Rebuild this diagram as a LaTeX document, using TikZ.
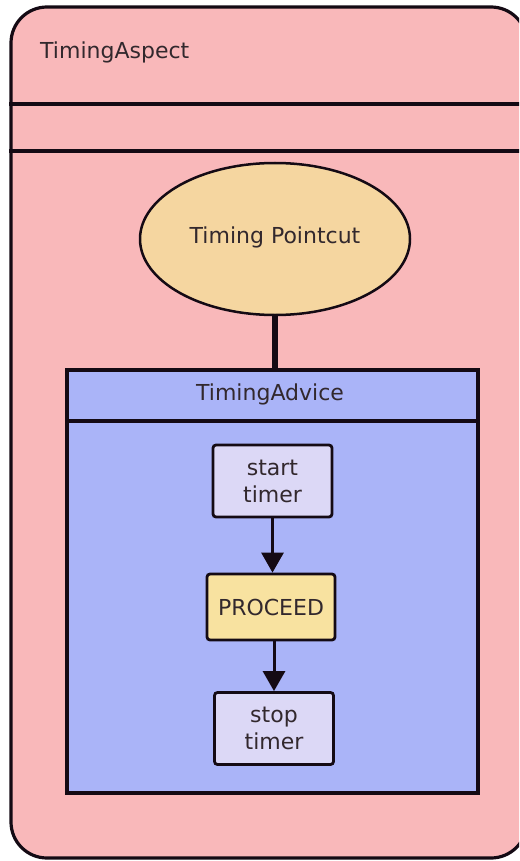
\documentclass[tikz,border=0pt]{standalone}
\usepackage{fontspec}
\setmainfont{DejaVu Sans}
\usetikzlibrary{shapes.geometric,arrows.meta}

\definecolor{aspectfill}{RGB}{249,184,186}
\definecolor{cutfill}{RGB}{245,214,160}
\definecolor{advicefill}{RGB}{170,180,248}
\definecolor{stepfill}{RGB}{220,216,246}
\definecolor{proceedfill}{RGB}{248,226,160}
\definecolor{inkline}{RGB}{20,10,20}
\definecolor{inktext}{RGB}{50,40,45}

\tikzset{
  aspectbox/.style={draw=inkline, fill=aspectfill, line width=3.2pt,
    rounded corners=36pt, minimum width=516pt, minimum height=851pt, inner sep=0pt},
  cutshape/.style={ellipse, draw=inkline, fill=cutfill, line width=2.5pt,
    minimum width=270pt, minimum height=152pt, inner sep=0pt},
  advicebox/.style={draw=inkline, fill=advicefill, line width=3.2pt,
    minimum width=411pt, minimum height=423pt, inner sep=0pt},
  stepbox/.style={draw=inkline, fill=stepfill, line width=2.8pt, rounded corners=3pt,
    minimum width=119pt, minimum height=72pt, inner sep=0pt, align=center},
  proceedbox/.style={stepbox, fill=proceedfill, minimum width=128pt, minimum height=66pt},
  divider/.style={draw=inkline, line width=3.2pt},
  flow/.style={draw=inkline, line width=3pt, -{Triangle[width=22pt,length=20pt]}},
  label/.style={text=inktext, inner sep=0pt}
}

\begin{document}
\begin{tikzpicture}[x=1pt, y=-1pt, font=\fontsize{22}{27}\selectfont]
  \useasboundingbox (0,0) rectangle (519,861);
  \begin{scope}
    \clip (0,0) rectangle (519,861);

    % outer aspect container, its right edge runs just past the page
    \node[aspectbox] (aspect) at (269,432.5) {};
    \node[label, anchor=base west] (aspectname) at (40,59) {TimingAspect};
    \coordinate (rowA) at (0,104);
    \coordinate (rowB) at (0,151);
    \draw[divider] (aspect.west |- rowA) -- (aspect.east |- rowA);
    \draw[divider] (aspect.west |- rowB) -- (aspect.east |- rowB);

    % pointcut and advice
    \node[cutshape] (pointcut) at (275,239) {};
    \node[label] (cutname) at (275,237) {Timing Pointcut};

    \node[advicebox] (advice) at (272.5,581.5) {};
    \coordinate (rowC) at (0,421);
    \draw[divider] (advice.west |- rowC) -- (advice.east |- rowC);
    \node[label] (advicename) at (270,394) {TimingAdvice};

    \draw[draw=inkline, line width=6.5pt] (pointcut.south) -- (pointcut.south |- advice.north);

    % advice body
    \node[stepbox, text=inktext] (start) at (272.5,481) {start\\timer};
    \node[proceedbox, text=inktext] (proceed) at (271,607) {PROCEED};
    \node[stepbox, text=inktext] (stop) at (274,728.5) {stop\\timer};

    \draw[flow] (start.south) -- (proceed.north -| start.south);
    \draw[flow] (proceed.south -| stop.north) -- (stop.north);
  \end{scope}
\end{tikzpicture}
\end{document}
